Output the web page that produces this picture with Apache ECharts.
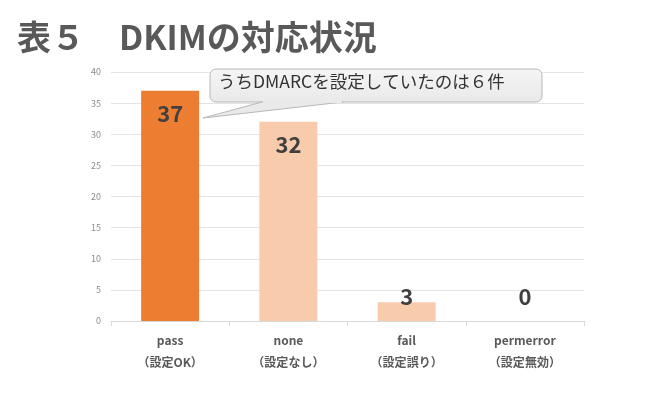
<!DOCTYPE html>
<html>
<head>
<meta charset="utf-8">
<script src="https://cdn.jsdelivr.net/npm/echarts@6/dist/echarts.min.js"></script>
<style>
  html, body { margin: 0; padding: 0; background: #fff; }
  #chart { width: 650px; height: 397px; }
</style>
</head>
<body>
<div id="chart"></div>
<script>
// Chart data
const categories = ['pass', 'none', 'fail', 'permerror'];
const subLabels = ['（設定OK）', '（設定なし）', '（設定誤り）', '（設定無効）'];
const counts = [37, 32, 3, 0];
const barColors = ['#ED7D31', '#F8CBAD', '#F8CBAD', '#F8CBAD'];
const titleText = '表５　DKIMの対応状況';
const noteText = 'うちDMARCを設定していたのは６件';

const FONT = '"Noto Sans CJK JP", "Noto Sans", sans-serif';

// Build bar items; small bars get their label lifted above the axis
const barData = counts.map((v, i) => ({
    value: v,
    itemStyle: { color: barColors[i] },
    label: v < 5
        ? { position: 'insideBottom', distance: 13 }
        : { position: 'insideTop', distance: 12 }
}));

const boxFill = {
    type: 'linear', x: 0, y: 0, x2: 0, y2: 1,
    colorStops: [
        { offset: 0, color: '#f5f5f5' },
        { offset: 1, color: '#e9e9e9' }
    ]
};

const chart = echarts.init(document.getElementById('chart'));
chart.setOption({
    animation: false,
    backgroundColor: '#fff',
    textStyle: { fontFamily: FONT },
    grid: { left: 111, right: 66, top: 72, bottom: 76 },
    xAxis: {
        type: 'category',
        data: categories,
        axisLine: { lineStyle: { color: '#d9d9d9' } },
        axisTick: { show: true, length: 5, lineStyle: { color: '#d9d9d9' } },
        axisLabel: {
            margin: 8,
            color: '#595959',
            fontSize: 12,
            fontWeight: 'bold',
            lineHeight: 22,
            fontFamily: FONT,
            formatter: (v, i) => v + '\n' + subLabels[i]
        }
    },
    yAxis: {
        type: 'value',
        min: 0,
        max: 40,
        interval: 5,
        axisLine: { show: false },
        axisTick: { show: false },
        axisLabel: { color: '#8c8c8c', fontSize: 9, margin: 10 },
        splitLine: { lineStyle: { color: '#e3e3e3' } }
    },
    series: [{
        type: 'bar',
        data: barData,
        barWidth: '49%',
        label: {
            show: true,
            color: '#404040',
            fontSize: 22,
            fontWeight: 'bold',
            fontFamily: FONT
        }
    }],
    graphic: [
        {
            type: 'text',
            left: 17,
            top: 20,
            style: {
                text: titleText,
                fill: '#595959',
                font: 'bold 34px ' + FONT
            }
        },
        {
            // callout box
            type: 'rect',
            shape: { x: 210, y: 69, width: 332, height: 33, r: 6 },
            style: { fill: boxFill, stroke: '#b8b8b8', lineWidth: 1 },
            z: 100
        },
        {
            // callout pointer
            type: 'polygon',
            shape: { points: [[262, 102], [203, 118], [343, 102]] },
            style: { fill: '#eaeaea', stroke: '#b8b8b8', lineWidth: 1 },
            z: 100
        },
        {
            type: 'line',
            shape: { x1: 263, y1: 102, x2: 342, y2: 102 },
            style: { stroke: '#eaeaea', lineWidth: 2 },
            z: 100
        },
        {
            type: 'text',
            left: 218,
            top: 73,
            style: {
                text: noteText,
                fill: '#333',
                font: '17.5px ' + FONT
            },
            z: 101
        }
    ]
});
</script>
</body>
</html>
